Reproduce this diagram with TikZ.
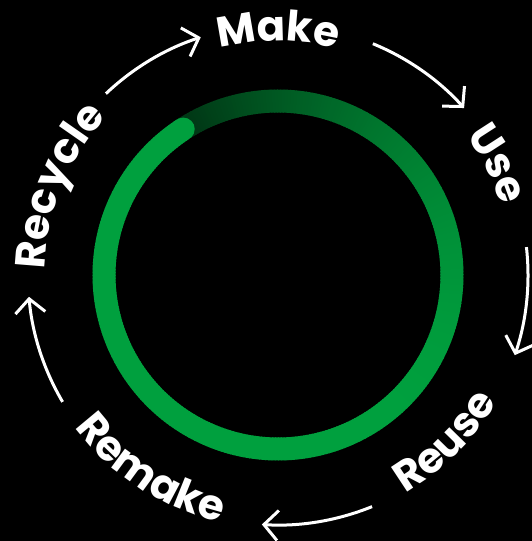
\documentclass[tikz,border=0pt]{standalone}
\usepackage{fontspec}
\setmainfont{Poppins}
\usetikzlibrary{arrows.meta,decorations.text}
\definecolor{brg}{RGB}{0,160,62}
\definecolor{dkg}{RGB}{0,52,20}
\tikzset{
  arr/.style={white, line width=3pt, -{Straight Barb[length=14pt,width=30pt,line width=3pt]}},
  lbl/.style={decorate, decoration={text along path, text align=center, text color=white,
      text={|\bfseries\fontsize{42pt}{42pt}\selectfont|#1}}}
}
\begin{document}
\begin{tikzpicture}[x=1pt,y=1pt]
\fill[black] (0,0) rectangle (532,541);
\useasboundingbox (0,0) rectangle (532,541);
\begin{scope}[shift={(278,266)}]
  % ring with gradient
  \foreach \i in {0,...,359}{
    \pgfmathsetmacro\q{max(0,\i/360-0.5)*2}
    \pgfmathsetmacro\p{100*\q*\q}
    \colorlet{segc}{dkg!\p!brg}
    \pgfmathsetmacro\a{123+\i}
    \pgfmathsetmacro\b{123+\i+1.3}
    \draw[segc, line width=23pt] (\a:174pt) arc[start angle=\a, end angle=\b, radius=174pt];
  }
  \fill[brg] (123:174pt) circle[radius=11.5pt];
  % labels
  \path[lbl=Make] (130:234pt) arc[start angle=130, end angle=50, radius=234pt];
  \path[lbl=Use] (66.8:234pt) arc[start angle=66.8, end angle=-13.2, radius=234pt];
  \path[lbl=Recycle] (198:233pt) arc[start angle=198, end angle=118, radius=233pt];
  \path[lbl=Reuse] (-84.9:253pt) arc[start angle=-84.9, end angle=-4.9, radius=253pt];
  \path[lbl=Remake] (196.8:254pt) arc[start angle=196.8, end angle=276.8, radius=254pt];
  % arrows
  \coordinate (a1) at (133.5:250pt);
  \coordinate (a2) at (67.7:250pt);
  \coordinate (a3) at (6.4:250pt);
  \coordinate (a4) at (-67.9:250pt);
  \coordinate (a5) at (210.5:250pt);
  \draw[arr] (a1) arc[start angle=133.5, end angle=108, radius=250pt];
  \draw[arr] (a2) arc[start angle=67.7, end angle=41.9, radius=250pt];
  \draw[arr] (a3) arc[start angle=6.4, end angle=-18.7, radius=250pt];
  \draw[arr] (a4) arc[start angle=-67.9, end angle=-93.7, radius=250pt];
  \draw[arr] (a5) arc[start angle=210.5, end angle=185, radius=250pt];
\end{scope}
\end{tikzpicture}
\end{document}
